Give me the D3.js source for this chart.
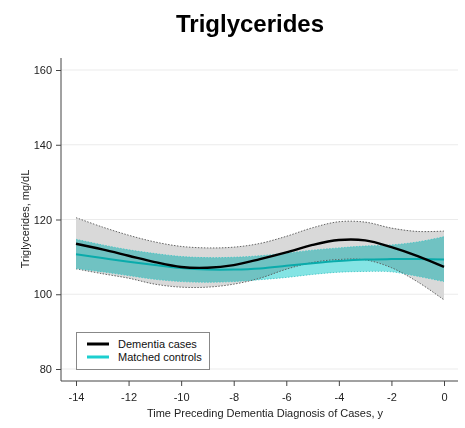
<!DOCTYPE html>
<html>
<head>
<meta charset="utf-8">
<script src="https://cdn.jsdelivr.net/npm/d3@7"></script>
<style>
  body { margin: 0; background: #fff; }
  svg { display: block; font-family: Arial, "Liberation Sans", sans-serif; }
</style>
</head>
<body>
<svg id="chart" width="465" height="428"></svg>
<script>
const years = [-14, -13, -12, -11, -10, -9, -8, -7, -6, -5, -4, -3, -2, -1, 0];
const casesMean  = [113.5, 112.0, 110.3, 108.6, 107.3, 107.1, 107.8, 109.4, 111.2, 113.2, 114.5, 114.4, 112.6, 110.2, 107.3];
const casesUpper = [120.5, 118.0, 115.8, 114.0, 112.8, 112.4, 112.6, 113.6, 115.5, 117.8, 119.4, 119.3, 117.7, 116.8, 116.9];
const casesLower = [106.8, 105.5, 104.3, 102.7, 101.9, 101.9, 102.7, 104.3, 106.7, 108.5, 109.3, 109.2, 107.1, 103.3, 98.5];
const ctrlMean   = [110.7, 109.7, 108.7, 107.8, 107.0, 106.6, 106.6, 106.9, 107.6, 108.3, 108.9, 109.3, 109.4, 109.4, 109.3];
const ctrlUpper  = [114.7, 113.2, 111.9, 110.9, 110.1, 109.8, 109.9, 110.3, 111.0, 111.8, 112.4, 112.9, 113.2, 114.0, 115.4];
const ctrlLower  = [106.9, 106.0, 105.0, 104.0, 103.4, 103.2, 103.4, 103.9, 104.5, 105.3, 105.9, 106.1, 106.0, 104.8, 103.4];
const xTicks = [-14, -12, -10, -8, -6, -4, -2, 0];
const xTickLabels = ["-14", "-12", "-10", "-8", "-6", "-4", "-2", "0"];
const yTicks = [80, 100, 120, 140, 160];
const seriesNames = ["Dementia cases", "Matched controls"];
const titleText = "Triglycerides";
const xTitle = "Time Preceding Dementia Diagnosis of Cases, y";
const yTitle = "Triglycerides, mg/dL";

const svg = d3.select("#chart");
const x = d3.scaleLinear().domain([-14, 0]).range([76, 444]);
const y = d3.scaleLinear().domain([80, 160]).range([369, 70]);
const plotLeft = 61, plotRight = 458, plotTop = 58, plotBottom = 381;

// gridlines
svg.append("g").selectAll("line").data(yTicks).join("line")
  .attr("x1", plotLeft).attr("x2", plotRight)
  .attr("y1", d => y(d)).attr("y2", d => y(d))
  .attr("stroke", "#ebebeb").attr("stroke-width", 1);

const rows = years.map((t, i) => ({t, cm: casesMean[i], cu: casesUpper[i], cl: casesLower[i],
  km: ctrlMean[i], ku: ctrlUpper[i], kl: ctrlLower[i]}));
const curve = d3.curveCatmullRom.alpha(0.5);

const caseArea = d3.area().x(d => x(d.t)).y0(d => y(d.cl)).y1(d => y(d.cu)).curve(curve);
const ctrlArea = d3.area().x(d => x(d.t)).y0(d => y(d.kl)).y1(d => y(d.ku)).curve(curve);
const line = key => d3.line().x(d => x(d.t)).y(d => y(d[key])).curve(curve);

svg.append("path").datum(rows).attr("d", caseArea).attr("fill", "#d9d9d9");
svg.append("path").datum(rows).attr("d", ctrlArea).attr("fill", "#84e4e4")
  .style("mix-blend-mode", "multiply");

// band edges
["cu", "cl"].forEach(k => svg.append("path").datum(rows).attr("d", line(k))
  .attr("fill", "none").attr("stroke", "#555").attr("stroke-width", 0.9)
  .attr("stroke-dasharray", "1.5,1.5"));
["ku", "kl"].forEach(k => svg.append("path").datum(rows).attr("d", line(k))
  .attr("fill", "none").attr("stroke", "#3cc4c4").attr("stroke-width", 0.8)
  .attr("stroke-dasharray", "1.5,1.5"));

svg.append("path").datum(rows).attr("d", line("km"))
  .attr("fill", "none").attr("stroke", "#0aabab").attr("stroke-width", 2);
svg.append("path").datum(rows).attr("d", line("cm"))
  .attr("fill", "none").attr("stroke", "#000").attr("stroke-width", 2.4);

// axes
const axisColor = "#444";
const yAxis = svg.append("g").attr("transform", `translate(${plotLeft},0)`)
  .call(d3.axisLeft(y).tickValues(yTicks).tickSize(5).tickPadding(4));
const xAxis = svg.append("g").attr("transform", `translate(0,${plotBottom})`)
  .call(d3.axisBottom(x).tickValues(xTicks).tickSize(5).tickPadding(7)
    .tickFormat((d, i) => xTickLabels[i]));
[yAxis, xAxis].forEach(g => {
  g.select(".domain").remove();
  g.selectAll(".tick line").attr("stroke", axisColor);
  g.selectAll(".tick text").attr("fill", "#222").attr("font-size", 11)
    .attr("font-family", "Arial, 'Liberation Sans', sans-serif");
});
svg.append("line").attr("x1", plotLeft).attr("x2", plotLeft).attr("y1", plotTop).attr("y2", plotBottom)
  .attr("stroke", axisColor).attr("stroke-width", 1);
svg.append("line").attr("x1", plotLeft).attr("x2", plotRight).attr("y1", plotBottom).attr("y2", plotBottom)
  .attr("stroke", axisColor).attr("stroke-width", 1);

// titles
svg.append("text").attr("x", 250).attr("y", 32).attr("text-anchor", "middle")
  .attr("font-size", 24).attr("font-weight", "bold").attr("fill", "#000").text(titleText);
svg.append("text").attr("x", 265).attr("y", 417).attr("text-anchor", "middle")
  .attr("font-size", 11).attr("fill", "#222").text(xTitle);
svg.append("text").attr("transform", "translate(29,219) rotate(-90)").attr("text-anchor", "middle")
  .attr("font-size", 11).attr("fill", "#222").text(yTitle);

// legend
const leg = svg.append("g").attr("transform", "translate(76,332)");
leg.append("rect").attr("x", 0.5).attr("y", 0.5).attr("width", 133).attr("height", 37)
  .attr("fill", "#fff").attr("stroke", "#888").attr("stroke-width", 1);
const legColors = ["#000", "#1ccfcf"];
seriesNames.forEach((n, i) => {
  leg.append("line").attr("x1", 11).attr("x2", 33).attr("y1", 12 + i * 13).attr("y2", 12 + i * 13)
    .attr("stroke", legColors[i]).attr("stroke-width", 3);
  leg.append("text").attr("x", 42).attr("y", 16 + i * 13).attr("font-size", 11)
    .attr("fill", "#111").text(n);
});
</script>
</body>
</html>
